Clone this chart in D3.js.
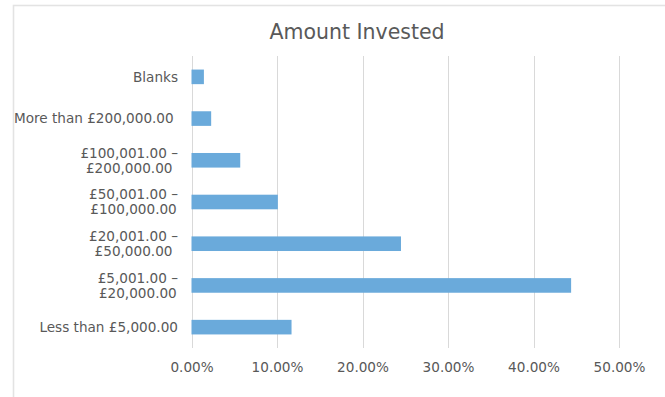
<!DOCTYPE html>
<html>
<head>
<meta charset="utf-8">
<script src="https://cdn.jsdelivr.net/npm/d3@7"></script>
<style>
  html, body { margin: 0; padding: 0; background: #fff; }
  svg { display: block; }
  text { font-family: "DejaVu Sans", Verdana, sans-serif; fill: #595959; white-space: pre; }
</style>
</head>
<body>
<svg id="chart" width="665" height="397"></svg>
<script>
const title = "Amount Invested";
const categories = [
  ["Blanks"],
  ["More than £200,000.00 "],
  ["£100,001.00 –", "£200,000.00"],
  ["£50,001.00 –", "£100,000.00"],
  ["£20,001.00 –", "£50,000.00"],
  ["£5,001.00 –", "£20,000.00"],
  ["Less than £5,000.00"]
];
const values = [1.45, 2.3, 5.7, 10.1, 24.5, 44.4, 11.7];
const tickValues = [0, 10, 20, 30, 40, 50];

const svg = d3.select("#chart");
const plot = { left: 191.5, right: 619, top: 56, bottom: 348 };
const fs = "13.6px";

// chart border
svg.append("rect")
  .attr("x", 13.5).attr("y", 5.5)
  .attr("width", 700).attr("height", 500)
  .attr("fill", "none").attr("stroke", "#e3e3e3").attr("stroke-width", 1.6);

const x = d3.scaleLinear().domain([0, 50]).range([plot.left, plot.right]);
const y = d3.scaleBand()
  .domain(categories.map((d, i) => i))
  .range([plot.top, plot.bottom])
  .paddingInner(0.65).paddingOuter(0.325);

// gridlines
svg.append("g").selectAll("line").data(tickValues).join("line")
  .attr("x1", d => Math.round(x(d)) + 0.5).attr("x2", d => Math.round(x(d)) + 0.5)
  .attr("y1", plot.top).attr("y2", plot.bottom)
  .attr("stroke", "#d9d9d9").attr("stroke-width", 1);

// x axis labels
const xAxis = d3.axisBottom(x).tickValues(tickValues)
  .tickFormat(d => d.toFixed(2) + "%").tickSize(0).tickPadding(0);
const gx = svg.append("g").attr("transform", `translate(0, ${plot.bottom})`).call(xAxis);
gx.select(".domain").remove();
gx.selectAll("text")
  .attr("y", 24.3).attr("dy", 0)
  .style("font-family", "'DejaVu Sans', Verdana, sans-serif")
  .style("font-size", fs).attr("fill", "#595959");

// bars
svg.append("g").selectAll("rect").data(values).join("rect")
  .attr("x", x(0))
  .attr("y", (d, i) => y(i))
  .attr("width", d => x(d) - x(0))
  .attr("height", y.bandwidth())
  .attr("fill", "#6AAADB");

// category labels
const labelRight = 178;
const lineH = 15;
const lg = svg.append("g");
categories.forEach((lines, i) => {
  const cy = y(i) + y.bandwidth() / 2;
  const t = lg.append("text")
    .style("font-size", fs)
    .attr("text-anchor", "middle");
  const n = lines.length;
  const spans = lines.map((s, k) => t.append("tspan")
    .attr("y", cy + (k - (n - 1) / 2) * lineH + 4.8)
    .text(s));
  let maxW = 0;
  spans.forEach(sp => { maxW = Math.max(maxW, sp.node().getComputedTextLength()); });
  spans.forEach(sp => sp.attr("x", labelRight - maxW / 2));
});

// title
svg.append("text")
  .attr("x", 357).attr("y", 39)
  .attr("text-anchor", "middle")
  .style("font-size", "20.5px")
  .text(title);
</script>
</body>
</html>
